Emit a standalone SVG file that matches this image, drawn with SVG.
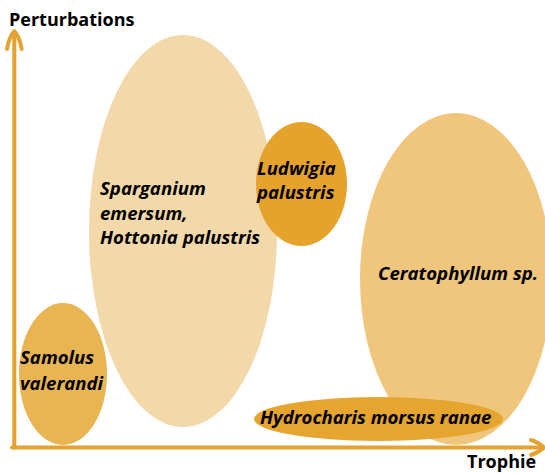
<svg xmlns="http://www.w3.org/2000/svg" width="545" height="473" viewBox="0 0 545 473">
<style>
.lbl{font-family:"Open Sans","Liberation Sans",sans-serif;font-weight:bold;font-style:italic;font-size:18.6px;fill:#000}
.ax{font-family:"Open Sans","Liberation Sans",sans-serif;font-weight:bold;font-size:18px;fill:#000}
.axis{stroke:#E5A232;stroke-width:4;fill:none;stroke-linecap:round;stroke-linejoin:round}
</style>
<rect width="545" height="473" fill="#fff"/>
<g id="sparganium">
<ellipse cx="183" cy="231" rx="94" ry="196" fill="#F3D9A9"/>
<text class="lbl" x="100" y="195">Sparganium</text>
<text class="lbl" x="100" y="220">emersum,</text>
<text class="lbl" x="100" y="244">Hottonia palustris</text>
</g>
<g id="ludwigia">
<ellipse cx="301.5" cy="184" rx="45.5" ry="62" fill="#E5A32C"/>
<text class="lbl" x="257" y="175">Ludwigia</text>
<text class="lbl" x="257" y="199">palustris</text>
</g>
<g id="ceratophyllum">
<ellipse cx="456" cy="279" rx="96" ry="166" fill="#EFC67C"/>
<text class="lbl" x="378" y="280">Ceratophyllum sp.</text>
</g>
<g id="samolus">
<ellipse cx="63" cy="374" rx="44" ry="71" fill="#E9B553"/>
<text class="lbl" x="20" y="364">Samolus</text>
<text class="lbl" x="20" y="390">valerandi</text>
</g>
<g id="hydrocharis">
<ellipse cx="378.5" cy="419" rx="124.5" ry="22" fill="#E5A52F"/>
<text class="lbl" x="260" y="424">Hydrocharis morsus ranae</text>
</g>
<g id="axes">
<path class="axis" d="M14.3,447.5 V33"/>
<path class="axis" d="M7,49 Q9,37 14.3,31 Q19.6,37 21.6,49"/>
<path class="axis" d="M12,447.5 H542"/>
<path class="axis" d="M531,440 Q538,442 544,447.5 Q538,453 531,455"/>
<text class="ax" x="9" y="26">Perturbations</text>
<text class="ax" x="467" y="468">Trophie</text>
</g>
</svg>
